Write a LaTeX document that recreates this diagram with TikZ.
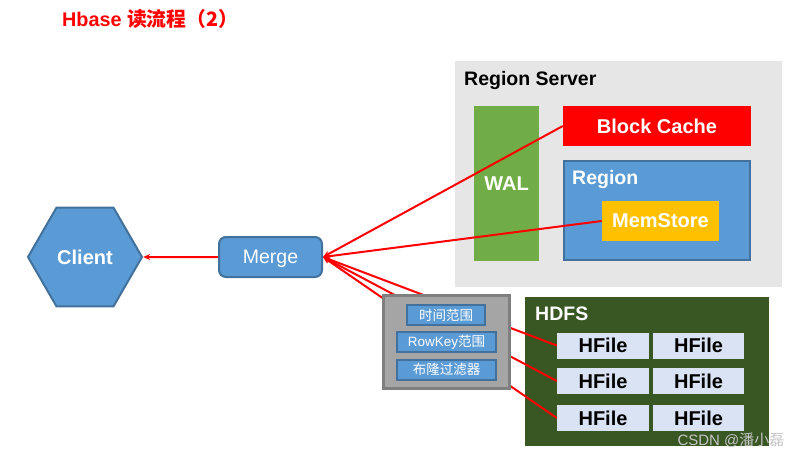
\documentclass[tikz,border=0pt]{standalone}
\usepackage{fontspec}
\setmainfont{Liberation Sans}
\newfontfamily\cjk{Noto Sans CJK SC}
\usepackage{xcolor}
\usetikzlibrary{positioning, arrows.meta, shapes.geometric}

\definecolor{rsgray}{HTML}{E6E6E6}
\definecolor{walgreen}{HTML}{70AD47}
\definecolor{boxblue}{HTML}{5B9BD5}
\definecolor{edgeblue}{HTML}{41719C}
\definecolor{memorange}{HTML}{FFC000}
\definecolor{filtergray}{HTML}{A5A5A5}
\definecolor{filteredge}{HTML}{7F7F7F}
\definecolor{hdfsgreen}{HTML}{385723}
\definecolor{hfileblue}{HTML}{DAE3F3}

\tikzset{
  box/.style={inner sep=0pt, text=white, font=\bfseries\fontsize{20}{24}\selectfont},
  bluebox/.style={box, fill=boxblue, draw=edgeblue, line width=2pt},
  hfile/.style={box, fill=hfileblue, text=black, minimum width=92, minimum height=26},
  filt/.style={bluebox, font=\fontsize{13.5}{16}\selectfont, minimum height=20},
  caption/.style={anchor=west, inner sep=0pt, text depth=0pt, font=\bfseries\fontsize{19.5}{23}\selectfont},
  readline/.style={draw=red, line width=2pt, -{Stealth[length=7pt,width=6pt]}},
}

\begin{document}
\begin{tikzpicture}[x=1pt, y=-1pt]
  \useasboundingbox (0,0) rectangle (810,457);

  % title
  \node[caption, text=red, font=\bfseries\fontsize{19.8}{23}\selectfont] (title) at (62,18)
       {Hbase {\cjk 读流程（2）}};

  % region server
  \node[box, fill=rsgray, minimum width=327, minimum height=226] (rs) at (618.5,174) {};
  \node[caption] (rslbl) at (464,78) {Region Server};
  \node[box, fill=walgreen, minimum width=65, minimum height=155] (wal) at (506.5,183.5) {WAL};
  \node[box, fill=red, minimum width=188, minimum height=40] (cache) at (657,126) {Block Cache};
  \node[bluebox, minimum width=186, minimum height=99] (region) at (657,210.5) {};
  \node[caption, text=white] (regionlbl) at (572,177) {Region};
  \node[box, fill=memorange, minimum width=117, minimum height=40] (mem) at (660.5,221) {MemStore};

  % hdfs
  \node[box, fill=hdfsgreen, minimum width=244, minimum height=149] (hdfs) at (647,371.5) {};
  \node[caption, text=white] (hdfslbl) at (535,314) {HDFS};
  \node[hfile] (hf11) at (603,345.5) {HFile};
  \node[hfile, minimum width=91] (hf12) at (698.5,345.5) {HFile};
  \node[hfile] (hf21) at (603,381) {HFile};
  \node[hfile, minimum width=91] (hf22) at (698.5,381) {HFile};
  \node[hfile] (hf31) at (603,418) {HFile};
  \node[hfile, minimum width=91] (hf32) at (698.5,418) {HFile};

  % client and merge
  \node[regular polygon, regular polygon sides=6, minimum size=114, bluebox] (client) at (85,257) {Client};
  \node[bluebox, rounded corners=7pt, minimum width=103, minimum height=40, text depth=0pt,
        font=\fontsize{19.5}{23}\selectfont] (merge) at (270.5,257) {Merge};

  % read paths
  \draw[readline] (merge.west) -- (client.east);
  \draw[readline] (cache.west) -- (merge.east);
  \draw[readline] (mem.west) -- (merge.east);
  \draw[readline] (hf11.west) -- (merge.east);
  \draw[readline] (hf21.west) -- (merge.east);
  \draw[readline] (hf31.west) -- (merge.east);

  % filters
  \node[box, fill=filtergray, draw=filteredge, line width=3pt,
        minimum width=126, minimum height=93] (filter) at (446,341.5) {};
  \node[filt, minimum width=78] (ftime) at (446,315) {\cjk 时间范围};
  \node[filt, minimum width=99] (frow) at (446.5,342) {RowKey{\cjk 范围}};
  \node[filt, minimum width=99] (fbloom) at (446.5,369.5) {\cjk 布隆过滤器};

  % watermark
  \node[inner sep=0pt, text=gray!45, font=\fontsize{15}{17}\selectfont] (mark) at (731,440)
       {CSDN @{\cjk 潘小磊}};
\end{tikzpicture}
\end{document}
